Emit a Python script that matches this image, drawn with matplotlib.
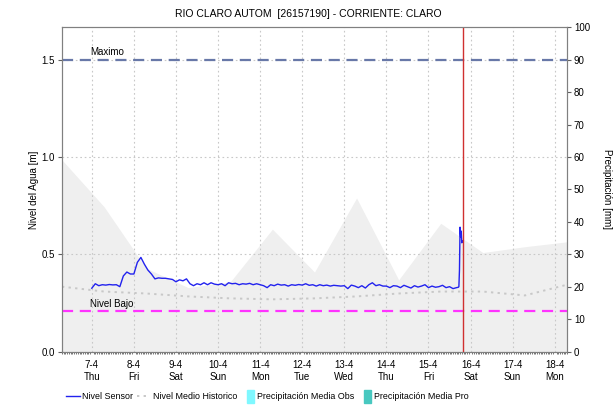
import datetime as dt
import matplotlib
matplotlib.use("Agg")
import matplotlib.pyplot as plt
import matplotlib.dates as mdates
from matplotlib.lines import Line2D
from matplotlib.patches import Patch, Rectangle
from matplotlib.legend_handler import HandlerPatch

plt.rcParams['font.family'] = ['Liberation Sans', 'DejaVu Sans']

# sensor level [m], every 2 hours from 7-4 00:00
sensor_start = dt.datetime(2022, 4, 7, 0, 0)
nivel_sensor = [
    0.327, 0.350, 0.340, 0.345, 0.343, 0.346, 0.344, 0.345, 0.335, 0.390, 0.410, 0.400,
    0.400, 0.460, 0.485, 0.450, 0.420, 0.400, 0.375, 0.380, 0.378, 0.378, 0.375, 0.372,
    0.360, 0.370, 0.365, 0.375, 0.350, 0.340, 0.350, 0.345, 0.355, 0.345, 0.355, 0.348,
    0.345, 0.350, 0.340, 0.355, 0.350, 0.352, 0.345, 0.350, 0.348, 0.352, 0.345, 0.350,
    0.345, 0.340, 0.330, 0.345, 0.340, 0.348, 0.343, 0.345, 0.338, 0.345, 0.342, 0.346,
    0.343, 0.350, 0.342, 0.345, 0.338, 0.345, 0.340, 0.343, 0.338, 0.342, 0.340, 0.338,
    0.340, 0.325, 0.343, 0.338, 0.330, 0.340, 0.328, 0.345, 0.355, 0.340, 0.345, 0.338,
    0.338, 0.330, 0.340, 0.338, 0.330, 0.342, 0.335, 0.328, 0.340, 0.333, 0.338, 0.345,
    0.330, 0.338, 0.332, 0.335, 0.342, 0.330, 0.335, 0.325, 0.330,
]
# last readings before the cut (15-4, hh:mm)
tail_times = ["17:00", "17:20", "17:40", "18:00", "18:20", "18:40", "19:00", "19:20"]
tail_values = [0.332, 0.335, 0.420, 0.640, 0.590, 0.620, 0.560, 0.570]

# daily values at 07:00 from 6-4 to 18-4
daily_start = dt.datetime(2022, 4, 6, 7, 0)
envolvente = [0.985, 0.745, 0.43, 0.33, 0.36, 0.63, 0.41, 0.79, 0.37, 0.66, 0.51, 0.54, 0.565]
nivel_medio = [0.335, 0.31, 0.30, 0.285, 0.275, 0.27, 0.275, 0.285, 0.30, 0.31, 0.31, 0.29, 0.345]

nivel_maximo = 1.5
nivel_bajo = 0.21
ahora = dt.datetime(2022, 4, 15, 19, 55)

t_sensor = [sensor_start + dt.timedelta(hours=2 * i) for i in range(len(nivel_sensor))]
for hhmm, v in zip(tail_times, tail_values):
    h, m = map(int, hhmm.split(":"))
    t_sensor.append(dt.datetime(2022, 4, 15, h, m))
    nivel_sensor = nivel_sensor + [v]
t_daily = [daily_start + dt.timedelta(days=i) for i in range(len(envolvente))]

fig = plt.figure(figsize=(6.16, 4.05), dpi=100)
ax = fig.add_axes([0.1006, 0.1309, 0.8199, 0.8024])

ax.fill_between(t_daily, 0, envolvente, color='#efefef', lw=0, zorder=1)
ax.plot(t_daily, nivel_medio, color='#c8c8c8', lw=1.4, ls=(0, (1.2, 2.2)), zorder=2)
ax.axhline(nivel_maximo, color='#6878a8', lw=1.6, ls=(0, (5, 3)), zorder=3)
ax.axhline(nivel_bajo, color='#ff33ff', lw=1.6, ls=(0, (5, 3)), zorder=3)
ax.plot(t_sensor, nivel_sensor, color='#2222ee', lw=1.0, zorder=4)
ax.axvline(ahora, color='#d03030', lw=1.0, zorder=5)

ax.text(dt.datetime(2022, 4, 6, 23, 0), nivel_maximo + 0.012, 'Maximo', fontsize=7, va='bottom')
ax.text(dt.datetime(2022, 4, 6, 23, 0), nivel_bajo + 0.012, 'Nivel Bajo', fontsize=7, va='bottom')

ax.set_xlim(t_daily[0], t_daily[-1])
ax.set_ylim(0, 1.6667)

dias = [dt.datetime(2022, 4, d) for d in range(7, 19)]
ax.set_xticks(dias)
ax.set_xticklabels([f"{d.day}-{d.month}\n{d.strftime('%a')}" for d in dias], fontsize=7)
ax.xaxis.set_minor_locator(mdates.HourLocator(byhour=range(0, 24, 1)))
ax.tick_params(axis='x', which='major', length=0, pad=6)
ax.tick_params(axis='x', which='minor', length=1.5, width=0.6, color='#606060')
ax.set_yticks([0, 0.5, 1.0, 1.5])
ax.set_yticklabels(['0.0', '0.5', '1.0', '1.5'], fontsize=7)
ax.tick_params(axis='y', length=3, color='#606060', pad=2)
ax.set_ylabel('Nivel del Agua [m]', fontsize=7, labelpad=2)
ax.grid(True, color='#c8c8c8', ls=(0, (1.5, 2.5)), lw=0.8)
ax.set_axisbelow(False)
for s in ax.spines.values():
    s.set_color('#808080')
    s.set_linewidth(0.8)

ax2 = ax.twinx()
ax2.set_ylim(0, 100)
ax2.set_yticks(range(0, 101, 10))
ax2.tick_params(axis='y', labelsize=7, length=3, color='#606060', pad=2)
ax2.set_ylabel('Precipitación [mm]', fontsize=7, rotation=270, labelpad=16)
for s in ax2.spines.values():
    s.set_color('#808080')
    s.set_linewidth(0.8)

fig.text(0.5, 0.965, 'RIO CLARO AUTOM  [26157190] - CORRIENTE: CLARO', ha='center',
         va='center', fontsize=7.5)


def barra_estrecha(legend, orig_handle, xdescent, ydescent, width, height, fontsize):
    # precipitation swatches are drawn as a thin upright bar
    return Rectangle((width - 5 - xdescent, -ydescent - 2), 5, height + 4)


handles = [
    Line2D([], [], color='#2222ee', lw=1.0),
    Line2D([], [], color='#c8c8c8', lw=1.4, ls=(0, (1.2, 2.2))),
    Patch(color='#7ff8ff'),
    Patch(color='#48c8c0'),
]
labels = ['Nivel Sensor', 'Nivel Medio Historico', 'Precipitación Media Obs', 'Precipitación Media Pro']
fig.legend(handles, labels, loc='center', bbox_to_anchor=(0.434, 0.02), ncol=4, frameon=False,
           fontsize=6.4, handlelength=1.5, handleheight=0.9, handletextpad=0.3, columnspacing=0.4,
           borderaxespad=0, handler_map={Patch: HandlerPatch(patch_func=barra_estrecha)})

fig.savefig('out.png', dpi=100)
